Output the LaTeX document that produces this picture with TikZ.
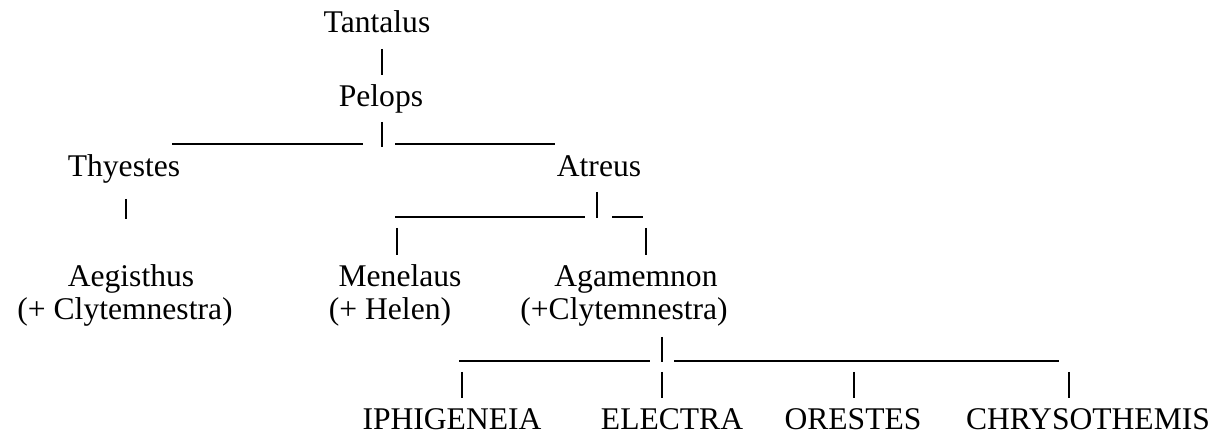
\documentclass[tikz,border=0pt]{standalone}
\usepackage{fontspec}
\setmainfont{Liberation Serif}

\begin{document}
\begin{tikzpicture}[x=0.38pt,y=-0.38pt,
    person/.style={anchor=base,inner sep=0pt,font=\fontsize{12}{14}\selectfont},
    bar/.style={line width=0.55pt}]
  \useasboundingbox (0,0) rectangle (1226,435);

  \node[person] (tantalus)  at (377,33)  {Tantalus};
  \node[person] (pelops)    at (381,107) {Pelops};
  \node[person] (thyestes)  at (124,177) {Thyestes};
  \node[person] (atreus)    at (599,177) {Atreus};
  \node[person] (aegisthus) at (131,287) {Aegisthus};
  \node[person] (aegwife)   at (125,320) {(+ Clytemnestra)};
  \node[person] (menelaus)  at (400,287) {Menelaus};
  \node[person] (menwife)   at (390,320) {(+ Helen)};
  \node[person] (agamemnon) at (636,287) {Agamemnon};
  \node[person] (agawife)   at (624,320) {(+Clytemnestra)};
  \node[person] (iphigeneia)   at (452,430)  {IPHIGENEIA};
  \node[person] (electra)      at (672,430)  {ELECTRA};
  \node[person] (orestes)      at (853,430)  {ORESTES};
  \node[person] (chrysothemis) at (1088,430) {CHRYSOTHEMIS};

  % vertical strokes
  \foreach \i/\x/\ya/\yb in {1/382/49/75, 2/382/122/147, 3/126/199/219,
      4/597/192/218, 5/397/228/255, 6/646/228/255, 7/662/337/362,
      8/462/372/398, 9/662/372/398, 10/854/372/398, 11/1069/372/398} {
    \coordinate (v\i a) at (\x,\ya);
    \coordinate (v\i b) at (\x,\yb);
    \draw[bar] (v\i a) -- (v\i b);
  }
  % underscores
  \foreach \i/\xa/\xb/\y in {1/172/363/144, 2/395/555/144, 3/395/585/217,
      4/612/643/217, 5/459/650/361, 6/674/1059/361} {
    \coordinate (h\i a) at (\xa,\y);
    \coordinate (h\i b) at (\xb,\y);
    \draw[bar] (h\i a) -- (h\i b);
  }
\end{tikzpicture}
\end{document}
